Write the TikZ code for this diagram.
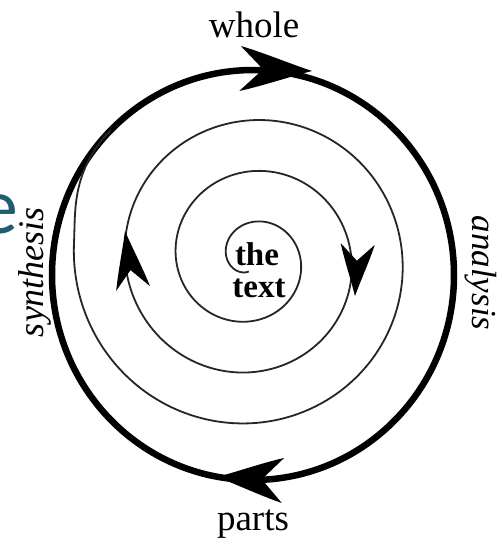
\documentclass[tikz,border=0pt]{standalone}
\usepackage{fontspec}
\setmainfont{Liberation Serif}
\newfontfamily\efont{Carlito}
\definecolor{eteal}{RGB}{32,94,110}
\newcommand{\headat}[5]{%
  \fill[shift={(#1,#2)},rotate=#3]
    (0,0) .. controls (-0.3*#4,0.14*#5) and (-0.7*#4,0.38*#5) .. (-#4,0.5*#5)
    -- (-0.68*#4,0) -- (-#4,-0.5*#5)
    .. controls (-0.7*#4,-0.38*#5) and (-0.3*#4,-0.14*#5) .. (0,0) -- cycle;}
\begin{document}
\begin{tikzpicture}[x=1pt,y=-1pt,
  declare function={
    sr(\p)=24+0.14167*(180-(\p));
    bl(\p)=min(1,max(0,(-905-(\p))/40));
    sm(\p)=bl(\p)*bl(\p)*(3-2*bl(\p));
    sx(\p)=251+sr(\p)*cos(\p);
    sy(\p)=259-sr(\p)*sin(\p);
    ex(\p)=253+201*cos(\p);
    ey(\p)=275-205*sin(\p);
    px(\p)=(1-sm(\p))*sx(\p)+sm(\p)*ex(\p);
    py(\p)=(1-sm(\p))*sy(\p)+sm(\p)*ey(\p);
  },
  spiralline/.style={line width=1.8pt, draw=black!85},
  outerline/.style={line width=6.5pt, draw=black},
  lbl/.style={inner sep=0pt, font=\fontsize{37}{40}\selectfont},
  sidelbl/.style={inner sep=0pt, font=\itshape\fontsize{36}{40}\selectfont},
  centerlbl/.style={inner sep=0pt, font=\bfseries\fontsize{33}{36}\selectfont}
]
\fill[white] (0,0) rectangle (500,539);
\useasboundingbox (0,0) rectangle (500,539);

% stray letter from slide
\node[anchor=base east, inner sep=0pt, text=eteal, font=\efont\fontsize{80}{80}\selectfont] (estray) at (19,233) {e};

% outer thick circle
\draw[outerline] (253pt,-275pt) ellipse [x radius=201pt, y radius=205pt];

% spiral
\draw[spiralline, line join=round] plot[domain=0:1205, samples=800, variable=\u]
  ({px(260-\u)},{py(260-\u)});

% arrowheads
\headat{312}{71}{-2}{72}{45}
\headat{217}{477}{177}{66}{45}
\headat{355}{296}{-93}{52}{34}
\headat{125}{231}{98}{58}{34}

% labels
\node[lbl, anchor=base] (whole) at (254,37) {whole};
\node[lbl, anchor=base] (parts) at (253,530) {parts};
\node[sidelbl, anchor=base, rotate=90] (synth) at (43,272) {synthesis};
\node[sidelbl, anchor=base, rotate=-90, font=\itshape\fontsize{35}{40}\selectfont] (anal) at (472,273) {analysis};
\node[centerlbl, anchor=base] (the) at (257,265) {the};
\node[centerlbl, anchor=base] (text) at (259,297) {text};
\end{tikzpicture}
\end{document}
